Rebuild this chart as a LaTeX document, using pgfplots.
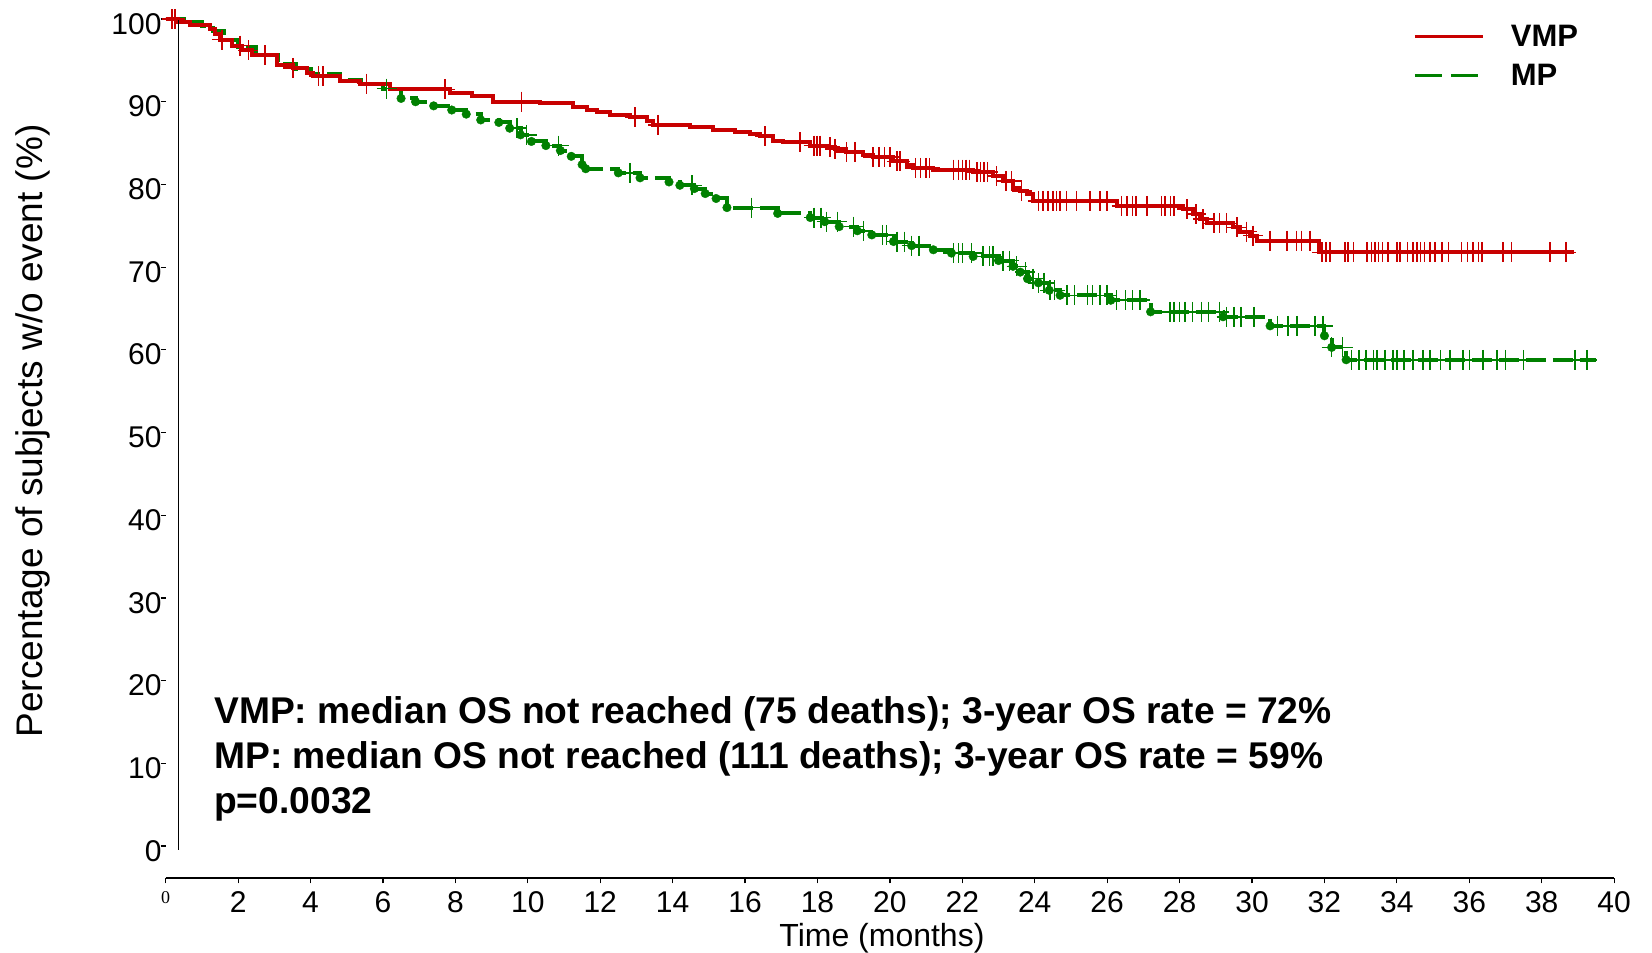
\documentclass[border=0pt]{standalone}
\usepackage{fontspec}
\setmainfont{Liberation Sans}
\newfontfamily\zerofont{Liberation Serif}
\usepackage{pgfplots}
\pgfplotsset{compat=1.18}
\definecolor{vmpred}{RGB}{200,0,0}
\definecolor{mpgreen}{RGB}{0,128,0}

% step points of the two survival curves (months, percent)
\pgfplotstableread{
x y
0 100
0.34 99.6
0.67 99.3
1.22 98.8
1.35 98.2
1.5 97.5
1.82 96.8
2.1 96.2
2.37 95.6
3.07 94.5
3.52 94.1
3.9 93.5
4.07 93.1
4.81 92.5
5.37 92.2
6.19 91.5
7.85 91.0
8.45 90.7
9.05 90.0
10.34 89.8
11.25 89.4
11.63 89.0
11.9 88.7
12.27 88.4
12.82 88.1
13.28 87.7
13.47 87.2
14.48 86.9
15.12 86.6
15.72 86.3
16.14 86.1
16.41 85.8
16.78 85.3
17.06 85.1
17.79 84.7
18.25 84.5
18.48 84.3
18.8 83.9
19.27 83.5
19.54 83.3
20.09 82.8
20.46 82.4
20.65 82.0
21.2 81.8
22.3 81.5
22.86 81.0
23.13 80.4
23.41 79.6
23.6 79.2
23.78 78.8
23.96 78.0
26.26 77.4
28.1 77.0
28.38 76.4
28.56 75.8
28.75 75.3
29.48 74.8
29.67 74.3
29.94 73.8
30.13 73.2
31.85 71.8
38.9 71.8
}\vmp

\pgfplotstableread{
x y
0 100
0.58 99.7
1.0 99.2
1.3 98.5
1.6 97.5
2.0 96.6
2.5 95.6
3.1 94.6
3.6 94.0
4.0 93.4
4.8 92.6
5.4 92.2
6.0 91.6
6.5 90.4
6.9 90.0
7.4 89.5
7.9 89.0
8.3 88.5
8.7 87.8
9.2 87.5
9.5 86.8
9.8 86.0
10.1 85.2
10.5 84.7
10.9 84.1
11.2 83.4
11.5 82.4
11.6 81.9
12.5 81.4
13.1 80.8
13.9 80.3
14.2 79.9
14.6 79.5
14.9 78.9
15.2 78.3
15.5 77.2
16.9 76.5
17.8 76.0
18.2 75.5
18.6 74.9
19.1 74.4
19.5 73.9
20.1 73.1
20.6 72.6
21.2 72.1
21.7 71.7
22.3 71.3
23.0 70.8
23.4 70.1
23.6 69.4
23.8 68.6
24.1 68.1
24.4 67.2
24.7 66.6
26.1 66.0
27.2 64.6
29.2 64.0
30.5 62.9
32.0 61.7
32.2 60.3
32.6 58.8
39.5 58.8
}\mp

% censored observations
\pgfplotstableread{
x y
0.17 100
0.26 100
1.55 97.5
2.05 96.8
2.28 96.2
2.74 95.6
3.52 94.1
4.22 93.1
4.35 93.1
5.55 92.2
7.71 91.5
9.83 90.0
12.96 88.1
13.6 87.2
16.55 85.8
17.52 85.1
17.9 84.7
17.98 84.7
18.07 84.7
18.35 84.5
18.48 84.3
18.8 83.9
19.04 83.9
19.54 83.3
19.7 83.3
19.85 83.3
20.0 83.3
20.19 82.8
20.28 82.8
20.7 82.0
20.85 82.0
21.0 82.0
21.1 82.0
21.75 81.8
21.9 81.8
22.0 81.8
22.1 81.8
22.2 81.8
22.4 81.5
22.5 81.5
22.6 81.5
22.7 81.5
22.95 81.0
23.2 80.4
23.36 80.4
23.64 79.2
24.1 78.0
24.23 78.0
24.36 78.0
24.5 78.0
24.6 78.0
24.7 78.0
24.87 78.0
25.15 78.0
25.52 78.0
25.8 78.0
25.99 78.0
26.4 77.4
26.55 77.4
26.7 77.4
26.8 77.4
27.1 77.4
27.5 77.4
27.6 77.4
27.75 77.4
27.85 77.4
28.2 77.0
28.45 76.4
28.65 75.8
28.95 75.3
29.1 75.3
29.3 75.3
29.58 74.8
29.85 74.3
30.03 73.8
30.5 73.2
30.96 73.2
31.23 73.2
31.37 73.2
31.6 73.2
31.93 71.8
32.05 71.8
32.15 71.8
32.57 71.8
32.65 71.8
32.8 71.8
33.17 71.8
33.3 71.8
33.4 71.8
33.5 71.8
33.6 71.8
33.75 71.8
34.0 71.8
34.09 71.8
34.3 71.8
34.45 71.8
34.55 71.8
34.65 71.8
34.77 71.8
34.92 71.8
35.05 71.8
35.24 71.8
35.42 71.8
35.79 71.8
35.95 71.8
36.1 71.8
36.25 71.8
36.35 71.8
36.93 71.8
37.17 71.8
38.23 71.8
38.67 71.8
}\vmpcens

\pgfplotstableread{
x y
6.1 91.6
9.7 86.8
9.97 86.0
10.85 84.7
12.82 81.4
14.53 79.9
16.18 77.2
17.9 76.0
18.1 76.0
18.25 75.5
18.55 75.5
19.0 74.9
19.27 74.4
19.8 73.9
19.9 73.9
20.2 73.1
20.4 73.1
20.6 72.6
20.8 72.6
21.75 71.7
21.9 71.7
22.0 71.7
22.26 71.7
22.57 71.3
22.75 71.3
22.85 71.3
23.13 70.8
23.3 70.8
23.5 70.1
23.74 69.4
23.95 68.6
24.1 68.1
24.25 68.1
24.42 67.2
24.55 67.2
24.89 66.6
25.1 66.6
25.45 66.6
25.6 66.6
25.8 66.6
25.99 66.6
26.26 66.0
26.5 66.0
26.7 66.0
26.9 66.0
27.73 64.6
27.85 64.6
28.0 64.6
28.15 64.6
28.36 64.6
28.6 64.6
28.8 64.6
29.1 64.6
29.3 64.0
29.5 64.0
29.7 64.0
30.05 64.0
30.7 62.9
31.0 62.9
31.24 62.9
31.74 62.9
31.96 62.9
32.2 60.3
32.5 60.3
32.75 58.8
32.95 58.8
33.15 58.8
33.35 58.8
33.45 58.8
33.67 58.8
33.9 58.8
34.0 58.8
34.2 58.8
34.45 58.8
34.72 58.8
34.92 58.8
35.2 58.8
35.47 58.8
35.83 58.8
36.0 58.8
36.38 58.8
36.76 58.8
37.0 58.8
37.5 58.8
38.92 58.8
39.25 58.8
}\mpcens

\begin{document}
\begin{tikzpicture}
\begin{axis}[
  x=36.21pt, y=8.27pt,
  xmin=0, xmax=40, ymin=-3.9, ymax=101,
  clip=false,
  axis x line=bottom, axis y line=left,
  x axis line style={-, line width=1.8pt},
  y axis line style={draw=none},
  tick align=outside,
  major tick length=5pt,
  tick style={black, line width=1.2pt},
  xtick={0,2,...,40},
  xticklabels={{\zerofont\fontsize{18}{18}\selectfont 0},2,4,6,8,10,12,14,16,18,20,22,24,26,28,30,32,34,36,38,40},
  ytick={0,10,...,100},
  yticklabels={0,10,20,30,40,50,60,70,80,90,100},
  xticklabel style={font=\fontsize{30}{30}\selectfont, anchor=north, inner sep=0pt, yshift=-8pt},
  yticklabel style={font=\fontsize{30}{30}\selectfont, anchor=north east, inner sep=0pt, xshift=1pt, yshift=6pt},
  legend image code/.code={\draw[#1] (0pt,0pt) -- (68pt,0pt); \path[draw=none] (0pt,0pt) -- (94pt,0pt);},
  legend style={at={(axis cs:34.45,95.5)}, anchor=west, draw=none, fill=none,
    inner sep=0pt, row sep=12pt, font=\bfseries\fontsize{31}{31}\selectfont},
  legend cell align=left,
]
\addplot[const plot, mpgreen, line width=4pt, dash pattern=on 20pt off 7pt, forget plot] table {\mp};
\addplot[only marks, mark=*, mark size=4.3pt, mpgreen, forget plot,
  skip coords between index={0}{13}, skip coords between index={61}{62}] table {\mp};
\addplot[only marks, mark=+, mark size=10pt, mpgreen, line width=1.5pt, forget plot] table {\mpcens};
\addplot[const plot, vmpred, line width=4pt, forget plot] table {\vmp};
\addplot[only marks, mark=+, mark size=10pt, vmpred, line width=1.5pt, forget plot] table {\vmpcens};

\addlegendimage{vmpred, line width=3pt}
\addlegendentry{VMP}
\addlegendimage{mpgreen, line width=3pt, dash pattern=on 27pt off 9pt}
\addlegendentry{MP}

\draw[line width=1.3pt] (axis cs:0.35,100) -- (axis cs:0.35,-0.5);

\node[anchor=base west, inner sep=0pt, font=\bfseries\fontsize{37.2}{37.2}\selectfont]
  at (axis cs:1.334,14.87) {VMP: median OS not reached (75 deaths); 3-year OS rate = 72\%};
\node[anchor=base west, inner sep=0pt, font=\bfseries\fontsize{37.2}{37.2}\selectfont]
  at (axis cs:1.334,9.43) {MP: median OS not reached (111 deaths); 3-year OS rate = 59\%};
\node[anchor=base west, inner sep=0pt, font=\bfseries\fontsize{37.2}{37.2}\selectfont]
  at (axis cs:1.334,3.99) {p=0.0032};

\node[rotate=90, anchor=center, inner sep=0pt, font=\fontsize{37}{37}\selectfont]
  at (axis cs:-3.66,50.2) {Percentage of subjects w/o event (\%)};
\node[anchor=base, inner sep=0pt, font=\fontsize{32}{32}\selectfont]
  at (axis cs:19.78,-12.2) {Time (months)};
\end{axis}
\pgfresetboundingbox
\path[use as bounding box] (-165.7pt,-74.7pt) rectangle (1486.3pt,878.3pt);
\end{tikzpicture}
\end{document}
